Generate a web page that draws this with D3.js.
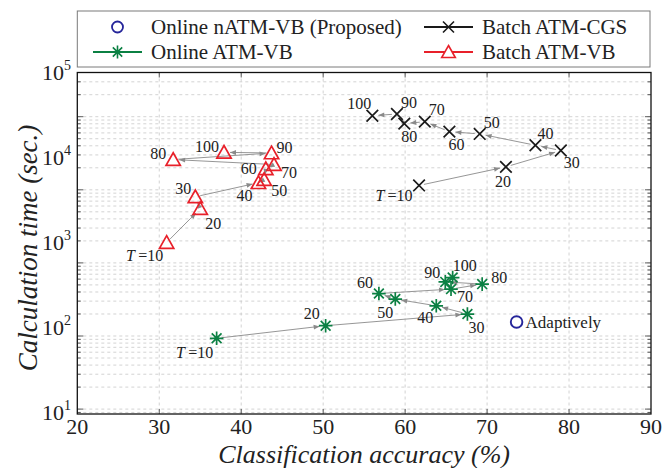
<!DOCTYPE html>
<html>
<head>
<meta charset="utf-8">
<script src="https://cdn.jsdelivr.net/npm/d3@7"></script>
<style>
body { margin: 0; background: #fff; }
svg { display: block; font-family: "Liberation Serif", "Times New Roman", serif; }
</style>
</head>
<body>
<script>
// iteration count T for every point of the three online / batch curves
var T = [10, 20, 30, 40, 50, 60, 70, 80, 90, 100];

var batchVbAcc  = [30.9, 35.0, 34.4, 42.1, 42.8, 43.0, 44.0, 31.7, 43.7, 37.9];
var batchVbTime = [1000, 2500, 3450, 5050, 5500, 7360, 8260, 9460, 11300, 11500];

var batchCgsAcc  = [61.7, 72.3, 79.0, 75.9, 69.1, 65.4, 62.4, 59.9, 59.0, 56.0];
var batchCgsTime = [4690, 7760, 12080, 13930, 18930, 20140, 26400, 25000, 32500, 31000];

var onlineVbAcc  = [37.0, 50.3, 67.6, 63.8, 58.8, 56.8, 65.6, 69.4, 64.9, 65.8];
var onlineVbTime = [74.6, 105, 144, 180, 216, 251, 283, 324, 344, 387];

var proposedAcc = [73.6];
var proposedTime = [116];

var xTicks = [20, 30, 40, 50, 60, 70, 80, 90];
var yTicks = [1e1, 1e2, 1e3, 1e4, 1e5];

// label placement around each marker (dx, dy)
var batchVbLab  = [[-22,13],[13,15],[-12,-8],[-14,13],[15,11],[-17,0],[15,8],[-15,-6],[13,-6],[-17,-6]];
var batchCgsLab = [[-25,10],[-3,15],[11,12],[10,-12],[12,-12],[7,13],[12,-12],[5,13],[12,-12],[-13,-12]];
var onlineVbLab = [[-22,14],[-14,-12],[9,13],[-11,12],[-10,13],[-14,-11],[14,7],[17,-7],[-13,-9],[12,-12]];

var svgWidth = 667, svgHeight = 468;
var plotLeft = 77.3, plotRight = 651, plotTop = 72.5, plotBottom = 414;

var red = '#e8202a', green = '#0b8043', blue = '#25259a', black = '#1a1a1a';

var svg = d3.select('body').append('svg')
    .attr('width', svgWidth)
    .attr('height', svgHeight);

var x = d3.scaleLinear().domain([20, 90]).range([plotLeft, plotRight]);
var y = d3.scaleLog().domain([10, 1e5]).range([412.5, 72.5]);
// the dashed log grid in the figure does not line up with the labels
var yGrid = d3.scaleLog().domain([1, 1e4]).range([409.1, 116.7]);

var defs = svg.append('defs');
defs.append('marker')
    .attr('id', 'arrow')
    .attr('viewBox', '0 0 10 10')
    .attr('refX', 10).attr('refY', 5)
    .attr('markerUnits', 'userSpaceOnUse')
    .attr('markerWidth', 7).attr('markerHeight', 6)
    .attr('orient', 'auto')
    .append('path')
        .attr('d', 'M0,1 L10,5 L0,9 Z')
        .attr('fill', '#8a8a8a');

var g = svg.append('g');

// grid
var gridVals = [];
for (var e = -1; e <= 4; e++) {
    for (var m = 1; m <= 9; m++) {
        var v = m * Math.pow(10, e);
        var py = yGrid(v);
        if (py > plotTop + 1 && py < plotBottom - 1) gridVals.push({ v: v, major: m === 1 });
    }
}
g.selectAll('.hgrid').data(gridVals).enter().append('line')
    .attr('class', 'hgrid')
    .attr('x1', plotLeft).attr('x2', plotRight)
    .attr('y1', function (d) { return yGrid(d.v); })
    .attr('y2', function (d) { return yGrid(d.v); })
    .attr('stroke', '#c8c8c8')
    .attr('stroke-width', 0.8)
    .attr('stroke-dasharray', '3,3');

g.selectAll('.vgrid').data(xTicks.slice(1, -1)).enter().append('line')
    .attr('class', 'vgrid')
    .attr('x1', function (d) { return x(d); })
    .attr('x2', function (d) { return x(d); })
    .attr('y1', plotTop).attr('y2', plotBottom)
    .attr('stroke', '#c8c8c8')
    .attr('stroke-width', 0.8)
    .attr('stroke-dasharray', '3,3');

// frame ticks
gridVals.forEach(function (d) {
    var len = d.major ? 6 : 3.5;
    var py = yGrid(d.v);
    g.append('line').attr('x1', plotLeft).attr('x2', plotLeft + len).attr('y1', py).attr('y2', py)
        .attr('stroke', '#333').attr('stroke-width', 0.8);
    g.append('line').attr('x1', plotRight).attr('x2', plotRight - len).attr('y1', py).attr('y2', py)
        .attr('stroke', '#333').attr('stroke-width', 0.8);
});
xTicks.slice(1, -1).forEach(function (d) {
    g.append('line').attr('x1', x(d)).attr('x2', x(d)).attr('y1', plotTop).attr('y2', plotTop + 5)
        .attr('stroke', '#333').attr('stroke-width', 0.8);
    g.append('line').attr('x1', x(d)).attr('x2', x(d)).attr('y1', plotBottom).attr('y2', plotBottom - 5)
        .attr('stroke', '#333').attr('stroke-width', 0.8);
});

g.append('rect')
    .attr('x', plotLeft).attr('y', plotTop)
    .attr('width', plotRight - plotLeft).attr('height', plotBottom - plotTop)
    .attr('fill', 'none')
    .attr('stroke', '#111')
    .attr('stroke-width', 1.3);

// tick labels
g.selectAll('.xlab').data(xTicks).enter().append('text')
    .attr('class', 'xlab')
    .attr('x', function (d) { return x(d); })
    .attr('y', 434)
    .attr('text-anchor', 'middle')
    .attr('font-size', 22)
    .attr('fill', '#222')
    .text(function (d) { return d; });

var ylab = g.selectAll('.ylab').data(yTicks).enter().append('text')
    .attr('class', 'ylab')
    .attr('x', 71)
    .attr('y', function (d) { return y(d) + 7.5; })
    .attr('text-anchor', 'end')
    .attr('font-size', 22)
    .attr('fill', '#222');
ylab.append('tspan').text('10');
ylab.append('tspan')
    .attr('dy', -10)
    .attr('font-size', 14)
    .text(function (d) { return Math.round(Math.log10(d)); });

// axis titles
g.append('text')
    .attr('x', (plotLeft + plotRight) / 2)
    .attr('y', 463)
    .attr('text-anchor', 'middle')
    .attr('font-size', 26)
    .attr('font-style', 'italic')
    .attr('fill', '#222')
    .text('Classification accuracy (%)');

g.append('text')
    .attr('transform', 'translate(37,248) rotate(-90)')
    .attr('text-anchor', 'middle')
    .attr('font-size', 27)
    .attr('font-style', 'italic')
    .attr('fill', '#222')
    .text('Calculation time (sec.)');

// marker shapes
function triPath(r) {
    return 'M0,' + (-r) + 'L' + (r * 1.05) + ',' + (r * 0.85) + 'L' + (-r * 1.05) + ',' + (r * 0.85) + 'Z';
}
function xPath(r) {
    return 'M' + (-r) + ',' + (-r) + 'L' + r + ',' + r + 'M' + (-r) + ',' + r + 'L' + r + ',' + (-r);
}
function starPath(r) {
    var k = r * 0.72;
    return xPath(k) + 'M0,' + (-r) + 'L0,' + r + 'M' + (-r) + ',0L' + r + ',0';
}

function trim(d, s) {
    var x1 = x(d[0].a), y1 = y(d[0].v), x2 = x(d[1].a), y2 = y(d[1].v);
    var len = Math.hypot(x2 - x1, y2 - y1);
    var ux = (x2 - x1) / len, uy = (y2 - y1) / len;
    if (s >= 0) return [x1 + ux * s, y1 + uy * s];
    return [x2 + ux * s, y2 + uy * s];
}

function drawSeries(acc, time, labs, color, shape) {
    var pts = acc.map(function (a, i) { return { t: T[i], a: a, v: time[i], lab: labs[i] }; });
    var segs = d3.pairs(pts);
    g.selectAll(null).data(segs).enter().append('line')
        .attr('x1', function (d) { return trim(d, 5)[0]; })
        .attr('y1', function (d) { return trim(d, 5)[1]; })
        .attr('x2', function (d) { return trim(d, -6)[0]; })
        .attr('y2', function (d) { return trim(d, -6)[1]; })
        .attr('stroke', '#8a8a8a')
        .attr('stroke-width', 0.9)
        .attr('marker-end', 'url(#arrow)');

    g.selectAll(null).data(pts).enter().append('path')
        .attr('transform', function (d) { return 'translate(' + x(d.a) + ',' + y(d.v) + ')'; })
        .attr('d', shape)
        .attr('fill', 'none')
        .attr('stroke', color)
        .attr('stroke-width', 1.7);

    var lab = g.selectAll(null).data(pts).enter().append('text')
        .attr('x', function (d) { return x(d.a) + d.lab[0]; })
        .attr('y', function (d) { return y(d.v) + d.lab[1]; })
        .attr('dy', '0.35em')
        .attr('text-anchor', 'middle')
        .attr('font-size', 16)
        .attr('fill', '#222');
    lab.each(function (d) {
        var t = d3.select(this);
        if (d.t === 10) {
            t.append('tspan').attr('font-style', 'italic').text('T');
            t.append('tspan').text('\u2009=10');
        } else {
            t.text(d.t);
        }
    });
}

drawSeries(batchVbAcc, batchVbTime, batchVbLab, red, triPath(6.8));
drawSeries(batchCgsAcc, batchCgsTime, batchCgsLab, black, xPath(5.8));
drawSeries(onlineVbAcc, onlineVbTime, onlineVbLab, green, starPath(6.8));

// proposed method
g.selectAll(null).data(proposedAcc).enter().append('circle')
    .attr('cx', function (d) { return x(d); })
    .attr('cy', function (d, i) { return y(proposedTime[i]); })
    .attr('r', 5.8)
    .attr('fill', 'none')
    .attr('stroke', blue)
    .attr('stroke-width', 1.9);
g.selectAll(null).data(proposedAcc).enter().append('text')
    .attr('x', function (d) { return x(d) + 9; })
    .attr('y', function (d, i) { return y(proposedTime[i]); })
    .attr('dy', '0.35em')
    .attr('font-size', 17)
    .attr('fill', '#222')
    .text('Adaptively');

// legend
var legend = svg.append('g');
legend.append('rect')
    .attr('x', plotLeft).attr('y', 11)
    .attr('width', 650 - plotLeft).attr('height', 56)
    .attr('fill', '#fff')
    .attr('stroke', '#7a7a7a')
    .attr('stroke-width', 1);

var legendItems = [
    { name: 'Online nATM-VB (Proposed)', color: blue, kind: 'circle', x: 93, y: 27, line: false },
    { name: 'Online ATM-VB', color: green, kind: 'star', x: 93, y: 52, line: true },
    { name: 'Batch ATM-CGS', color: black, kind: 'x', x: 424, y: 27, line: true },
    { name: 'Batch ATM-VB', color: red, kind: 'tri', x: 424, y: 52, line: true }
];
legendItems.forEach(function (it) {
    var mx = it.x + 24.5;
    if (it.line) {
        legend.append('line')
            .attr('x1', it.x).attr('x2', it.x + 49)
            .attr('y1', it.y).attr('y2', it.y)
            .attr('stroke', it.color).attr('stroke-width', 1.8);
    }
    if (it.kind === 'circle') {
        legend.append('circle').attr('cx', mx).attr('cy', it.y).attr('r', 5.5)
            .attr('fill', 'none').attr('stroke', it.color).attr('stroke-width', 1.8);
    } else {
        var d = it.kind === 'star' ? starPath(6.5) : it.kind === 'x' ? xPath(5.5) : triPath(6.5);
        legend.append('path')
            .attr('transform', 'translate(' + mx + ',' + it.y + ')')
            .attr('d', d)
            .attr('fill', it.kind === 'tri' ? '#fff' : 'none')
            .attr('stroke', it.color).attr('stroke-width', 1.6);
    }
    legend.append('text')
        .attr('x', it.x + 58)
        .attr('y', it.y)
        .attr('dy', '0.35em')
        .attr('font-size', 21)
        .attr('fill', '#222')
        .text(it.name);
});
</script>
</body>
</html>
